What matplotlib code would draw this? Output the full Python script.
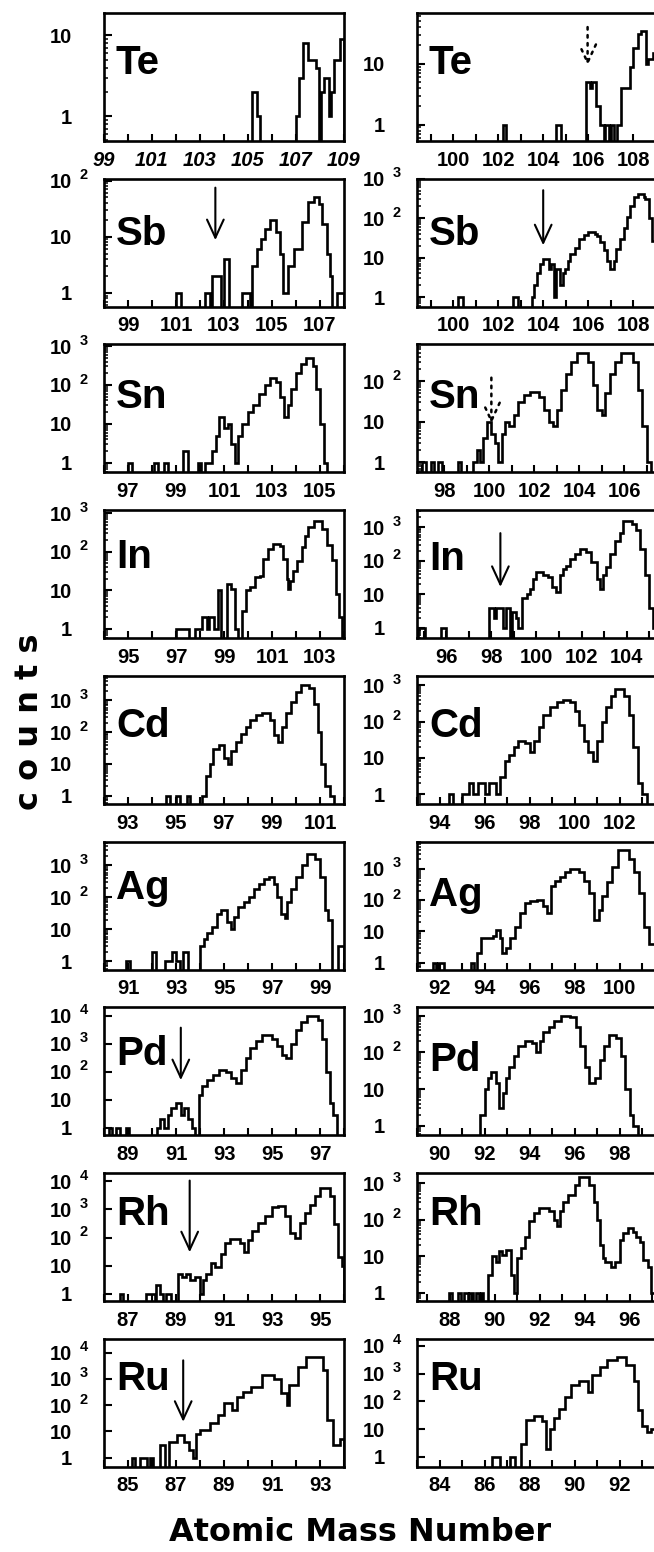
import numpy as np
import matplotlib.pyplot as plt
from matplotlib.ticker import LogLocator, NullFormatter, FixedLocator
from matplotlib.transforms import offset_copy

plt.rcParams['font.family'] = ['Liberation Sans', 'DejaVu Sans']
plt.rcParams['font.weight'] = 'bold'

# ---------------------------------------------------------------
# mass spectra as step histograms: bin edges (mass number) + counts
# ---------------------------------------------------------------
elements = ['Te', 'Sb', 'Sn', 'In', 'Cd', 'Ag', 'Pd', 'Rh', 'Ru']

te_l_edges = [105.15, 105.37, 105.51, 107.0, 107.14, 107.28, 107.49, 107.83, 107.97, 108.04,
              108.18, 108.39, 108.46, 108.58, 108.83, 109.0]
te_l_counts = [2, 1, 0, 1, 3, 8, 5, 4, 0, 2, 3, 1, 2, 5, 9]

te_r_edges = [102.2, 102.37, 104.59, 104.81, 105.88, 106.06, 106.18, 106.36, 106.53, 106.68,
              106.74, 106.9, 107.0, 107.15, 107.27, 107.46, 107.83, 107.98, 108.2, 108.35,
              108.54, 108.64, 108.86, 109.0]
te_r_counts = [1, 0, 1, 0, 5, 4, 5, 2, 1, 0, 1, 0, 1, 0, 1, 4, 9, 18, 31, 35, 10, 12, 15]

sb_l_edges = [101.0, 101.22, 102.22, 102.4, 102.5, 102.89, 103.0, 103.2, 103.73, 104.08,
              104.17, 104.36, 104.54, 104.7, 104.91, 105.15, 105.33, 105.47, 105.65, 105.9,
              106.24, 106.49, 106.73, 106.94, 107.1, 107.28, 107.42, 107.5, 107.7, 107.98]
sb_l_counts = [1, 0, 1, 0, 2, 0, 4, 0, 1, 0, 3, 6, 9, 14, 20, 12, 5, 1, 3, 6, 18, 41, 52, 39,
               17, 5, 2, 0, 1]

sb_r_edges = [100.2, 100.45, 102.65, 102.9, 103.5, 103.6, 103.72, 103.84, 104.0, 104.24,
              104.34, 104.46, 104.58, 104.73, 104.87, 104.98, 105.08, 105.2, 105.42, 105.61,
              105.79, 106.01, 106.31, 106.39, 106.53, 106.68, 106.83, 106.98, 107.13, 107.24,
              107.39, 107.57, 107.72, 107.87, 108.04, 108.19, 108.46, 108.53, 108.68, 108.83,
              109.0]
sb_r_counts = [1, 0, 1, 0, 1, 2, 4, 7, 9, 5, 7, 1, 5, 2, 4, 5, 8, 12, 18, 29, 38, 45, 40, 35,
               25, 16, 8, 5, 8, 17, 29, 57, 110, 207, 350, 410, 350, 300, 100, 27]

sn_l_edges = [97.0, 97.15, 98.1, 98.25, 98.5, 98.65, 99.3, 99.5, 99.9, 100.05, 100.2, 100.5,
              100.65, 100.8, 101.0, 101.15, 101.3, 101.45, 101.6, 101.75, 102.0, 102.2, 102.45,
              102.7, 102.9, 103.15, 103.35, 103.5, 103.65, 103.8, 104.0, 104.2, 104.4, 104.7,
              104.85, 105.0, 105.15, 105.3]
sn_l_counts = [1, 0, 1, 0, 1, 0, 2, 0, 1, 0, 1, 2, 5, 15, 8, 10, 3, 1, 5, 10, 20, 30, 60, 100,
               150, 120, 50, 15, 30, 80, 200, 350, 500, 300, 80, 10, 1]

sn_r_edges = [97.0, 97.2, 97.4, 97.55, 97.75, 97.9, 98.6, 98.75, 99.3, 99.45, 99.6, 99.75,
              99.9, 100.1, 100.25, 100.4, 100.55, 100.7, 100.9, 101.1, 101.3, 101.55, 101.8,
              102.2, 102.45, 102.65, 102.85, 103.0, 103.2, 103.4, 103.65, 103.9, 104.4, 104.6,
              104.8, 105.0, 105.15, 105.35, 105.6, 105.85, 106.4, 106.6, 106.8, 107.0, 107.2]
sn_r_counts = [1, 0, 1, 0, 1, 0, 1, 0, 1, 2, 1, 4, 10, 5, 3, 1, 5, 10, 8, 15, 30, 45, 55, 40,
               20, 10, 8, 20, 60, 150, 300, 500, 300, 80, 20, 15, 50, 150, 300, 500, 300, 60,
               8, 1]

in_l_edges = [97.02, 97.54, 97.79, 98.1, 98.31, 98.38, 98.59, 98.73, 98.87, 99.13, 99.29,
              99.44, 99.6, 99.74, 99.93, 100.07, 100.28, 100.49, 100.63, 100.84, 101.05,
              101.33, 101.47, 101.61, 101.68, 101.75, 101.89, 102.03, 102.24, 102.38, 102.52,
              102.73, 103.08, 103.29, 103.5, 103.65, 103.8, 103.9]
in_l_counts = [1, 0, 1, 2, 1, 2, 1, 10, 0, 15, 11, 1, 0, 3, 10, 12, 22, 24, 65, 120, 160, 140,
               65, 20, 11, 18, 32, 58, 135, 260, 450, 620, 400, 150, 60, 8, 2]

in_r_edges = [94.74, 95.04, 95.78, 96.0, 97.9, 98.1, 98.2, 98.52, 98.64, 98.81, 98.93, 99.11,
              99.19, 99.38, 99.56, 99.7, 99.85, 100.0, 100.3, 100.52, 100.71, 100.89, 101.04,
              101.19, 101.33, 101.48, 101.7, 101.93, 102.22, 102.44, 102.67, 102.84, 102.96,
              103.08, 103.26, 103.48, 103.7, 103.85, 104.22, 104.41, 104.59, 104.81, 105.0,
              105.19, 105.35]
in_r_counts = [1, 0, 1, 0, 4, 2, 4, 1, 4, 0, 3, 2, 1, 8, 10, 14, 28, 46, 37, 33, 17, 12, 37, 55,
               70, 110, 155, 230, 180, 90, 28, 14, 37, 65, 155, 375, 650, 1500, 1200, 820, 230,
               37, 4, 1]

cd_l_edges = [94.6, 94.75, 95.0, 95.15, 95.45, 95.6, 96.1, 96.25, 96.4, 96.55, 96.8, 97.0,
              97.15, 97.3, 97.5, 97.7, 97.9, 98.1, 98.35, 98.6, 98.9, 99.1, 99.25, 99.4, 99.6,
              99.8, 100.0, 100.2, 100.55, 100.75, 100.9, 101.05, 101.2, 101.4, 101.6]
cd_l_counts = [1, 0, 1, 0, 1, 0, 1, 4, 10, 30, 40, 15, 10, 25, 50, 90, 150, 250, 350, 400,
               250, 80, 50, 150, 400, 900, 1800, 3000, 2500, 800, 100, 10, 2, 1]

cd_r_edges = [94.4, 94.6, 95.0, 95.3, 95.5, 95.7, 96.0, 96.2, 96.5, 96.7, 96.9, 97.1, 97.3,
              97.5, 97.8, 98.0, 98.2, 98.4, 98.6, 98.9, 99.2, 99.5, 99.8, 100.0, 100.2, 100.4,
              100.6, 100.8, 101.0, 101.2, 101.4, 101.6, 101.8, 102.2, 102.4, 102.6, 102.8,
              103.0, 103.2]
cd_r_counts = [1, 0, 1, 2, 1, 2, 1, 2, 1, 3, 8, 12, 20, 30, 25, 15, 30, 70, 150, 250, 350,
               400, 350, 200, 80, 30, 15, 8, 30, 100, 250, 500, 800, 500, 150, 20, 2, 1]

ag_l_edges = [90.9, 91.07, 91.98, 92.16, 92.54, 92.85, 93.0, 93.15, 93.3, 93.5, 93.98, 94.16,
              94.3, 94.51, 94.69, 94.86, 95.14, 95.28, 95.42, 95.59, 95.84, 96.05, 96.26,
              96.47, 96.68, 96.89, 97.08, 97.22, 97.36, 97.53, 97.64, 97.81, 98.02, 98.23,
              98.44, 98.79, 99.0, 99.21, 99.35, 99.49, 99.77, 99.98]
ag_l_counts = [1, 0, 2, 0, 1, 2, 1, 0, 2, 0, 3, 5, 8, 12, 31, 40, 17, 10, 25, 50, 72, 103,
               190, 270, 385, 430, 270, 103, 31, 22, 72, 190, 430, 1000, 2300, 1600, 430, 40,
               20, 0, 3]

ag_r_edges = [91.7, 91.85, 91.95, 92.2, 93.4, 93.55, 93.67, 93.85, 94.37, 94.52, 94.67, 94.75,
              94.94, 95.12, 95.34, 95.57, 95.79, 96.01, 96.31, 96.61, 96.79, 96.94, 97.13,
              97.36, 97.58, 97.81, 98.18, 98.4, 98.63, 98.85, 99.07, 99.22, 99.45, 99.67,
              99.9, 100.42, 100.64, 100.87, 101.09, 101.31, 101.54, 101.7]
ag_r_counts = [1, 0, 1, 0, 1, 0, 2, 6, 7, 11, 6, 2, 3, 6, 14, 38, 80, 92, 98, 63, 38, 280,
               415, 530, 780, 950, 780, 415, 170, 23, 49, 130, 370, 1100, 3900, 2100, 780,
               170, 14, 4, 1]

pd_l_edges = [88.2, 88.35, 88.5, 88.65, 88.9, 89.05, 90.2, 90.35, 90.5, 90.65, 90.8, 91.0,
              91.2, 91.35, 91.5, 91.65, 91.8, 91.95, 92.1, 92.3, 92.55, 92.8, 93.1, 93.3, 93.5,
              93.7, 93.9, 94.1, 94.35, 94.6, 95.0, 95.2, 95.4, 95.6, 95.8, 96.0, 96.2, 96.45,
              96.9, 97.1, 97.25, 97.4, 97.55, 97.7]
pd_l_counts = [1, 0, 1, 0, 1, 0, 1, 2, 1, 3, 5, 8, 3, 5, 2, 1, 0, 15, 30, 50, 80, 120, 100,
               60, 40, 120, 300, 700, 1200, 2000, 1500, 800, 400, 300, 1000, 3000, 6000, 10000,
               7000, 1500, 100, 8, 3]

pd_r_edges = [91.8, 92.0, 92.15, 92.3, 92.5, 92.65, 92.8, 92.95, 93.1, 93.3, 93.5, 93.8, 94.1,
              94.3, 94.45, 94.6, 94.85, 95.1, 95.4, 95.8, 96.05, 96.25, 96.45, 96.65, 96.9,
              97.1, 97.3, 97.5, 97.85, 98.05, 98.25, 98.45, 98.6, 98.8]
pd_r_counts = [2, 10, 20, 30, 15, 3, 8, 20, 40, 80, 150, 200, 180, 100, 200, 350, 500, 700,
               1000, 900, 500, 150, 40, 15, 20, 60, 150, 300, 250, 80, 10, 2, 1]

rh_l_edges = [86.65, 86.8, 87.76, 88.11, 88.18, 88.32, 88.45, 88.6, 88.8, 89.09, 89.23, 89.43,
              89.57, 89.78, 89.99, 90.13, 90.27, 90.45, 90.62, 90.89, 91.06, 91.24, 91.66,
              91.84, 92.01, 92.17, 92.42, 92.7, 92.98, 93.26, 93.54, 93.75, 93.95, 94.16,
              94.37, 94.58, 94.79, 95.0, 95.4, 95.6, 95.75, 95.9, 96.0]
rh_l_counts = [1, 0, 1, 0, 2, 1, 0, 1, 0, 5, 4, 5, 3, 4, 1, 3, 5, 13, 9, 27, 63, 88, 63, 32,
               83, 165, 330, 580, 1250, 1300, 580, 145, 95, 330, 760, 1500, 3000, 6000, 3000,
               300, 20, 10]

rh_r_edges = [87.99, 88.1, 88.36, 88.5, 88.65, 88.8, 88.87, 89.02, 89.16, 89.31, 89.38, 89.49,
              89.72, 89.9, 90.04, 90.19, 90.34, 90.48, 90.7, 90.85, 91.0, 91.15, 91.34, 91.51,
              91.73, 91.95, 92.39, 92.61, 92.76, 92.91, 93.05, 93.27, 93.57, 93.75, 94.2,
              94.4, 94.52, 94.67, 94.82, 94.89, 95.18, 95.33, 95.55, 95.7, 95.92, 96.14,
              96.28, 96.43, 96.58, 96.8, 96.95, 97.09]
rh_r_counts = [1, 0, 1, 0, 1, 0, 1, 0, 1, 0, 1, 0, 3, 10, 7, 14, 11, 15, 3, 1, 9, 17, 34, 90,
               155, 215, 170, 100, 65, 170, 300, 460, 900, 1500, 900, 300, 100, 20, 9, 7, 5, 7,
               27, 42, 58, 47, 34, 24, 8, 5, 1]

ru_l_edges = [85.15, 85.3, 85.5, 85.79, 85.93, 86.05, 86.35, 86.56, 86.72, 87.06, 87.32,
              87.53, 87.7, 87.85, 88.0, 88.4, 88.75, 89.0, 89.35, 89.53, 89.79, 90.14, 90.58,
              91.1, 91.36, 91.63, 91.72, 92.07, 92.42, 93.12, 93.3, 93.56, 93.82, 94.0]
ru_l_counts = [1, 0, 1, 0, 1, 0, 3, 0, 4, 7, 4, 2, 1, 8, 11, 20, 42, 120, 65, 205, 320, 490,
               1370, 1000, 275, 100, 560, 2800, 6600, 2100, 27, 3, 5]

ru_r_edges = [86.31, 86.68, 87.14, 87.33, 87.61, 87.83, 88.17, 88.54, 88.72, 88.91, 89.1,
              89.28, 89.56, 89.84, 90.21, 90.58, 90.77, 91.14, 91.42, 91.89, 92.26, 92.63,
              92.82, 93.0, 93.19, 93.4, 93.6]
ru_r_counts = [1, 0, 1, 0, 3, 22, 29, 19, 2, 10, 25, 55, 140, 400, 530, 210, 900, 1750, 3000,
               3800, 2000, 530, 50, 13, 8, 10]

# axis ranges (mass number, counts) and labelled decades
left_xlim = [(99, 109), (98, 108), (96, 106), (94, 104), (92, 102), (90, 100), (88, 98),
             (86, 96), (84, 94)]
right_xlim = [(98.4, 109.05), (98.4, 109.05), (96.8, 107.45), (94.7, 105.35), (93.0, 103.65),
              (91.0, 101.65), (89.0, 99.65), (86.55, 97.2), (83.0, 93.65)]
left_first_mass = [99, 99, 97, 95, 93, 91, 89, 87, 85]
right_first_mass = [100, 100, 98, 96, 94, 92, 90, 88, 84]
left_ylim = [(0.49, 19), (0.57, 108), (0.57, 1100), (0.58, 1200), (0.55, 6000),
             (0.56, 5600), (0.55, 20000), (0.56, 20000), (0.45, 34000)]
right_ylim = [(0.54, 68), (0.57, 1000), (0.57, 800), (0.5, 3200), (0.55, 1800),
              (0.6, 7400), (0.55, 1700), (0.6, 1900), (0.45, 18000)]
left_decades = [[0, 1], [0, 1, 2], [0, 1, 2, 3], [0, 1, 2, 3], [0, 1, 2, 3], [0, 1, 2, 3],
                [0, 1, 2, 3, 4], [0, 1, 2, 3, 4], [0, 1, 2, 3, 4]]
right_decades = [[0, 1], [0, 1, 2, 3], [0, 1, 2], [0, 1, 2, 3], [0, 1, 2, 3], [0, 1, 2, 3],
                 [0, 1, 2, 3], [0, 1, 2, 3], [0, 1, 2, 3, 4]]

# arrows marking the isotopes discussed (column, row, mass, dotted?)
arrow_col = ['R', 'L', 'R', 'R', 'R', 'L', 'L', 'L']
arrow_row = [0, 1, 1, 2, 3, 6, 7, 8]
arrow_mass = [105.97, 102.64, 104.0, 100.1, 98.4, 91.2, 89.57, 87.3]
arrow_dotted = [True, False, False, True, False, False, False, False]

left_hist = [(te_l_edges, te_l_counts), (sb_l_edges, sb_l_counts), (sn_l_edges, sn_l_counts),
             (in_l_edges, in_l_counts), (cd_l_edges, cd_l_counts), (ag_l_edges, ag_l_counts),
             (pd_l_edges, pd_l_counts), (rh_l_edges, rh_l_counts), (ru_l_edges, ru_l_counts)]
right_hist = [(te_r_edges, te_r_counts), (sb_r_edges, sb_r_counts), (sn_r_edges, sn_r_counts),
              (in_r_edges, in_r_counts), (cd_r_edges, cd_r_counts), (ag_r_edges, ag_r_counts),
              (pd_r_edges, pd_r_counts), (rh_r_edges, rh_r_counts), (ru_r_edges, ru_r_counts)]

# ---------------------------------------------------------------
# layout (pixels of the 654 x 1552 output)
# ---------------------------------------------------------------
W, H = 654, 1552
COL_X = {'L': 104, 'R': 417}
AX_W, AX_H = 240, 128
TOP0, PITCH = 13, 165.7
FLOOR = 0.1

label_y = {'L': [0.52, 0.48, 0.5, 0.55, 0.52, 0.55, 0.55, 0.59, 0.6],
           'R': [0.52, 0.48, 0.5, 0.53, 0.52, 0.5, 0.5, 0.59, 0.6]}
arrow_top = [0.89, 0.93, 0.91, 0.74, 0.82, 0.84, 0.94, 0.83]
arrow_bot = [0.59, 0.52, 0.48, 0.38, 0.40, 0.43, 0.38, 0.35]

fig = plt.figure(figsize=(W / 100, H / 100), dpi=100)


def draw_panel(col, row, edges, counts, xlim, ylim, first_mass, decades):
    top = TOP0 + row * PITCH
    ax = fig.add_axes([COL_X[col] / W, 1 - (top + AX_H) / H, AX_W / W, AX_H / H])

    vals = np.asarray(counts, dtype=float)
    vals = np.where(vals > 0, vals, FLOOR)
    ax.stairs(vals, edges, baseline=FLOOR, color='black', lw=1.9)

    ax.set_yscale('log')
    ax.set_xlim(*xlim)
    ax.set_ylim(*ylim)

    # x ticks at every mass number, labels every second one
    majors = np.arange(np.ceil(xlim[0]), np.floor(xlim[1]) + 1)
    ax.set_xticks(majors)
    ax.set_xticklabels([str(int(m)) if (m - first_mass) % 2 == 0 and m >= first_mass else ''
                        for m in majors])
    if row == 0 and col == 'L':
        for lab in ax.get_xticklabels():
            lab.set_style('italic')

    # y ticks: decades + log minors, labels drawn by hand (10 with raised exponent)
    ax.yaxis.set_major_locator(FixedLocator([10.0 ** k for k in range(-1, 6)]))
    ax.yaxis.set_minor_locator(LogLocator(base=10, subs=np.arange(2, 10)))
    ax.yaxis.set_major_formatter(NullFormatter())
    ax.yaxis.set_minor_formatter(NullFormatter())

    ytr = ax.get_yaxis_transform()
    for k in decades:
        ax.text(-0.133, 10.0 ** k, '1' if k == 0 else '10', transform=ytr,
                ha='right', va='center_baseline', fontsize=14.5, fontweight='bold')
        if k >= 2:
            ax.text(-0.10, 10.0 ** k, str(k),
                    transform=offset_copy(ytr, fig=fig, y=5, units='points'),
                    ha='left', va='center_baseline', fontsize=10.5, fontweight='bold')

    ax.tick_params(axis='both', which='both', direction='in', top=False, right=False)
    ax.tick_params(axis='x', which='major', length=5, width=1.5, labelsize=14.5, pad=7)
    ax.tick_params(axis='y', which='major', length=6, width=1.5)
    ax.tick_params(axis='y', which='minor', length=3, width=1.1)
    for sp in ax.spines.values():
        sp.set_linewidth(1.9)

    ax.text(0.05, label_y[col][row], elements[row], transform=ax.transAxes,
            fontsize=29, fontweight='bold', ha='left', va='baseline')
    return ax


axes = {}
for row in range(9):
    axes[('L', row)] = draw_panel('L', row, *left_hist[row], left_xlim[row], left_ylim[row],
                                  left_first_mass[row], left_decades[row])
    axes[('R', row)] = draw_panel('R', row, *right_hist[row], right_xlim[row], right_ylim[row],
                                  right_first_mass[row], right_decades[row])

for i in range(len(arrow_mass)):
    ax = axes[(arrow_col[i], arrow_row[i])]
    tr = ax.get_xaxis_transform()
    ax.annotate('', xy=(arrow_mass[i], arrow_bot[i]), xycoords=tr,
                xytext=(arrow_mass[i], arrow_top[i]), textcoords=tr,
                arrowprops=dict(arrowstyle='->,head_length=0.65,head_width=0.3',
                                color='black', lw=1.8 if arrow_dotted[i] else 1.5,
                                linestyle=(0, (1, 2.2)) if arrow_dotted[i] else '-',
                                mutation_scale=20, shrinkA=0, shrinkB=0))

fig.text(30 / W, 1 - 722 / H, 'c o u n t s', rotation=90, family='DejaVu Sans',
         fontsize=23, fontweight='bold', ha='center', va='center')
fig.text(360 / W, 1 - 1541 / H, 'Atomic Mass Number', family='DejaVu Sans',
         fontsize=23, fontweight='bold', ha='center', va='baseline')

fig.savefig('out.png', dpi=100)
